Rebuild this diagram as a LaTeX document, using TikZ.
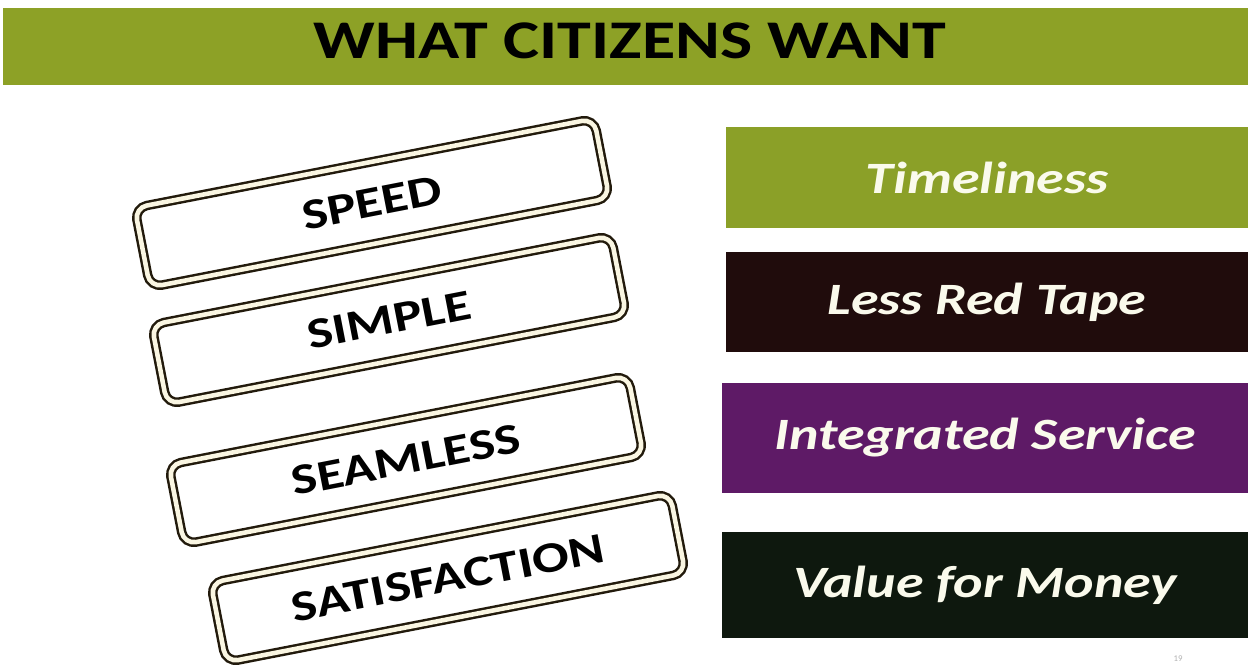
\documentclass[tikz,border=0pt]{standalone}
\usepackage{fontspec}
\setmainfont{Carlito}
\usepackage{graphicx}
\definecolor{bannergreen}{RGB}{141,161,38}
\definecolor{timegreen}{RGB}{139,160,40}
\definecolor{tapebrown}{RGB}{32,12,12}
\definecolor{servpurple}{RGB}{94,26,102}
\definecolor{moneydark}{RGB}{14,24,14}
\definecolor{bartext}{RGB}{250,250,236}
\definecolor{tagline}{RGB}{34,26,12}
\definecolor{tagfill}{RGB}{250,246,226}
\newcommand{\wide}[1]{\scalebox{1.25}[1]{#1}}

\begin{document}
\begin{tikzpicture}[x=0.02cm,y=-0.02cm,
	tagbox/.style={draw=tagline,double=tagfill,double distance=2.6pt,line width=1.4pt,rounded corners=7pt,
		minimum width=9.36cm,minimum height=1.62cm,inner sep=0pt,rotate=11,
		font=\fontsize{24.7}{28}\selectfont\bfseries},
	barbox/.style={inner sep=0pt,text=bartext,font=\fontsize{25.5}{30}\selectfont\bfseries\itshape}
	]
	\useasboundingbox (0,0) rectangle (1248,665);
	\fill[white] (0,0) rectangle (1248,665);
	\node[fill=bannergreen,minimum width=24.9cm,minimum height=1.54cm,inner sep=0pt] (banner) at (625.5,46.5) {};
	\node[font=\fontsize{31}{36}\selectfont\bfseries] (title) at (630,41) {\wide{WHAT CITIZENS WANT}};

	\node[tagbox] (speed) at (372,203) {\wide{SPEED}};
	\node[tagbox] (simple) at (389,320) {\wide{SIMPLE}};
	\node[tagbox] (seamless) at (406,460) {\wide{SEAMLESS}};
	\node[tagbox] (satisfaction) at (448,578) {\wide{SATISFACTION}};

	\node[barbox,fill=timegreen,minimum width=10.44cm,minimum height=2.02cm] (timeliness) at (987,177.5) {\wide{Timeliness}};
	\node[barbox,fill=tapebrown,minimum width=10.44cm,minimum height=2.0cm] (redtape) at (987,302) {\wide{Less Red Tape}};
	\node[barbox,fill=servpurple,minimum width=10.52cm,minimum height=2.2cm] (service) at (985,438) {\wide{Integrated Service}};
	\node[barbox,fill=moneydark,minimum width=10.52cm,minimum height=2.12cm] (money) at (985,585) {\wide{Value for Money}};

	\node[font=\fontsize{5}{6}\selectfont,text=gray!60,inner sep=0pt] (pagenum) at (1178,659) {19};
\end{tikzpicture}
\end{document}
